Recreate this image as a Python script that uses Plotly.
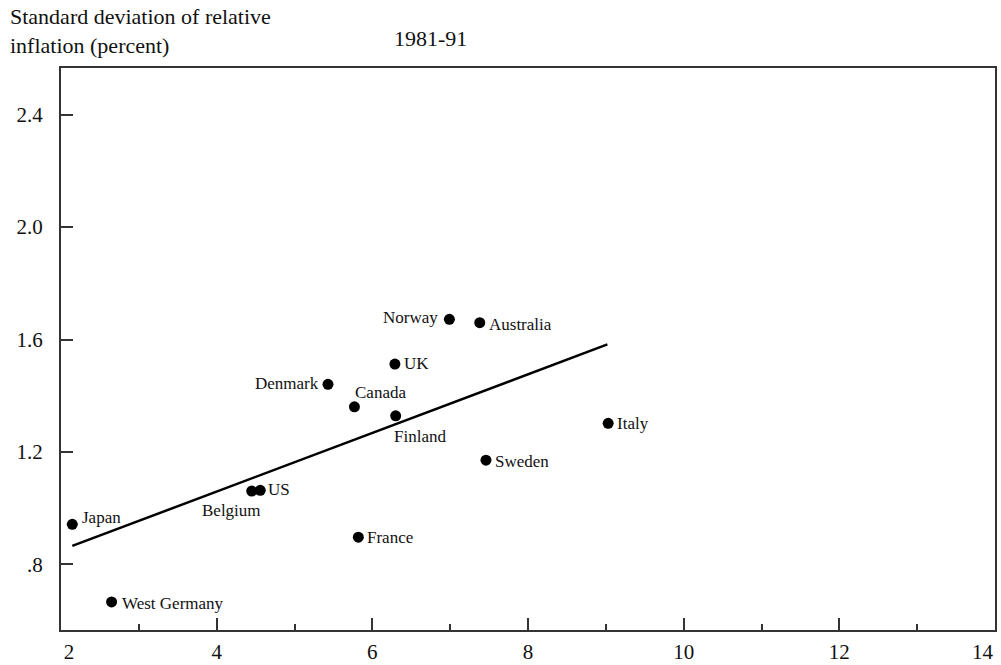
import plotly.graph_objects as go

# Data
countries = ["Japan", "West Germany", "Belgium", "US", "Denmark", "Canada", "UK",
             "Finland", "Norway", "Australia", "Italy", "Sweden", "France"]
inflation = [2.145, 2.65, 4.45, 4.56, 5.43, 5.77, 6.29, 6.30, 6.99, 7.38, 9.03, 7.46, 5.82]
std_dev = [0.943, 0.667, 1.061, 1.064, 1.441, 1.361, 1.513, 1.329, 1.672, 1.660, 1.302, 1.171, 0.897]

fit_x = [2.145, 9.02]
fit_y = [0.866, 1.583]

x_ticks = [2, 4, 6, 8, 10, 12, 14]
x_ticktext = ["\u00a0\u00a0\u00a02", "4", "6", "8", "10", "12", ""]
y_ticks = [0.8, 1.2, 1.6, 2.0, 2.4]
y_ticktext = [".8", "1.2", "1.6", "2.0", "2.4"]
minor_x = [3, 5, 7, 9, 11, 13]

# label placement: (xanchor, yanchor, xshift, yshift)
label_pos = {
    "Japan": ("left", "middle", 8, 7),
    "West Germany": ("left", "middle", 8, -2),
    "Belgium": ("right", "middle", 11, -19),
    "US": ("left", "middle", 6, 1),
    "Denmark": ("right", "middle", -7, 1),
    "Canada": ("left", "middle", -1, 14),
    "UK": ("left", "middle", 7, 1),
    "Finland": ("left", "middle", -4, -21),
    "Norway": ("right", "middle", -9, 2),
    "Australia": ("left", "middle", 7, -2),
    "Italy": ("left", "middle", 7, 0),
    "Sweden": ("left", "middle", 7, -1),
    "France": ("left", "middle", 7, 0),
}

FONT = "Liberation Serif"

fig = go.Figure()
fig.add_trace(go.Scatter(x=fit_x, y=fit_y, mode="lines",
                         line=dict(color="black", width=2.5), hoverinfo="skip"))
fig.add_trace(go.Scatter(x=inflation, y=std_dev, mode="markers",
                         marker=dict(color="black", size=11, symbol="circle"),
                         text=countries, hoverinfo="text"))

for c, xv, yv in zip(countries, inflation, std_dev):
    xa, ya, xs, ys = label_pos[c]
    fig.add_annotation(x=xv, y=yv, text=c, showarrow=False, xanchor=xa, yanchor=ya,
                       xshift=xs, yshift=ys, font=dict(family=FONT, size=17, color="#111"))

# last x tick label, right-aligned at the axis end as in the original
fig.add_annotation(x=x_ticks[-1], xref="x", yref="paper", y=0, text=str(x_ticks[-1]),
                   showarrow=False, xanchor="right", yanchor="top", yshift=-8, xshift=1,
                   font=dict(family=FONT, size=21, color="#111"))

fig.add_annotation(xref="paper", yref="paper", x=-0.0567, y=1.117,
                   text="Standard deviation of relative<br>inflation (percent)",
                   showarrow=False, xanchor="left", yanchor="top", align="left",
                   font=dict(family=FONT, size=22, color="#111"))
fig.add_annotation(xref="paper", yref="paper", x=0.396, y=1.053,
                   text="1981-91", showarrow=False, xanchor="center", yanchor="middle",
                   font=dict(family=FONT, size=22, color="#111"))

fig.update_layout(
    width=1001, height=665,
    margin=dict(l=61, r=6, t=68, b=35, autoexpand=False),
    paper_bgcolor="white", plot_bgcolor="white",
    showlegend=False,
    font=dict(family=FONT, size=21, color="#111"),
)
fig.update_xaxes(range=[2, 14], tickvals=x_ticks, ticktext=x_ticktext, automargin=False,
                 ticks="inside", ticklen=12, tickwidth=1.5, tickcolor="#333",
                 showline=True, linecolor="#333", linewidth=2, mirror=True,
                 showgrid=False, zeroline=False, ticklabelstandoff=2,
                 minor=dict(tickvals=minor_x, ticks="inside", ticklen=6,
                            tickwidth=1.5, tickcolor="#333", showgrid=False))
fig.update_yaxes(range=[0.567, 2.566], tickvals=y_ticks, ticktext=y_ticktext, automargin=False,
                 ticks="inside", ticklen=12, tickwidth=1.5, tickcolor="#333",
                 showline=True, linecolor="#333", linewidth=2, mirror=True,
                 showgrid=False, zeroline=False, ticklabelstandoff=12)

fig.write_html("out.html", config={"displayModeBar": False},
               post_script="document.body.style.margin='0';")
